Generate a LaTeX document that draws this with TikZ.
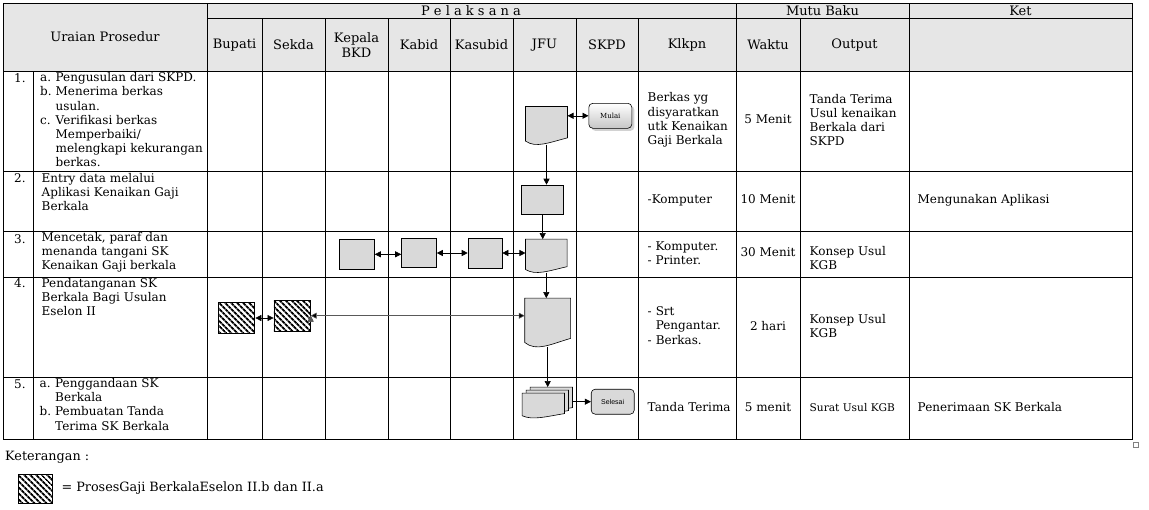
\documentclass[tikz,border=0pt]{standalone}
\usepackage{fontspec}
\setmainfont{DejaVu Serif}
\newfontfamily\labelsans{Liberation Sans}
\usetikzlibrary{arrows.meta,patterns.meta,shadows,calc,positioning}
\definecolor{headgray}{HTML}{E6E6E6}
\definecolor{boxgray}{HTML}{D9D9D9}

% outline of a document symbol drawn round an (invisible) node
\newcommand{\drawdoc}[1]{%
  \path[docshape] let \p1=(#1.north west), \p2=(#1.south east) in
    (\x1,\y1) -- (\x2,\y1) -- (\x2,{\y2+0.175*(\y1-\y2)})
    .. controls ({\x1+0.55*(\x2-\x1)},{\y2+0.05*(\y1-\y2)}) and ({\x1+0.25*(\x2-\x1)},{\y2-0.1*(\y1-\y2)})
    .. (\x1,{\y2+0.09*(\y1-\y2)}) -- cycle;}

\begin{document}
\begin{tikzpicture}[x=1pt,y=-1pt,>={Triangle[length=6pt,width=6pt]},
    font=\fontsize{12}{14.2}\selectfont]
    \tikzstyle{grid}=[line width=0.8pt]
    \tikzstyle{cell}=[inner sep=0pt,align=left,anchor=west]
    \tikzstyle{ctr}=[inner sep=0pt,align=center]
    \tikzstyle{head}=[ctr,font=\fontsize{13}{15}\selectfont]
    \tikzstyle{proc}=[draw,fill=boxgray,line width=0.6pt,inner sep=0pt]
    \tikzstyle{hatch}=[draw,line width=0.6pt,inner sep=0pt,
        pattern={Lines[angle=-45,distance=4pt,line width=2pt]}]
    \tikzstyle{docnode}=[inner sep=0pt]
    \tikzstyle{docshape}=[draw,fill=boxgray,line width=0.6pt]
    \tikzstyle{terminal}=[draw,rounded corners=4pt,inner sep=0pt,
        minimum width=43pt,minimum height=25pt,line width=0.6pt]
    \tikzstyle{link}=[->,line width=0.6pt]
    \tikzstyle{dlink}=[<->,line width=0.6pt]
    \tikzstyle{list}=[cell]

    \fill[white] (0,0) rectangle (1149,509);
    \useasboundingbox (0,0) rectangle (1149,509);

    % table
    \fill[headgray] (3,3) rectangle (1132,71);
    \draw[grid] (3,3) rectangle (1132,439);
    \foreach \y in {71,171,231,277,377}
        \draw[grid] (3,\y) -- (1132,\y);
    \draw[grid] (207,18.5) -- (1132,18.5);
    \foreach \x in {207,736,909}
        \draw[grid] (\x,3) -- (\x,439);
    \foreach \x in {262,325,388,450,513,576,638,800}
        \draw[grid] (\x,18.5) -- (\x,439);
    \draw[grid] (33,71) -- (33,439);
    \draw[gray,line width=0.5pt] (1133,442) rectangle (1138,447);

    % header
    \node[head] (pel) at (471,11) {P e l a k s a n a};
    \node[head] (mutu) at (822.5,11) {Mutu Baku};
    \node[head] (ket) at (1020.5,11) {Ket};
    \node[head] (uraian) at (105,37) {Uraian Prosedur};
    \node[head] (h-bup) at (234.5,45) {Bupati};
    \node[head] (h-sek) at (293.5,45) {Sekda};
    \node[head] (h-kep) at (356.5,45) {Kepala\\BKD};
    \node[head] (h-kab) at (419,45) {Kabid};
    \node[head] (h-kas) at (481.5,45) {Kasubid};
    \node[head] (h-jfu) at (544.5,45) {JFU};
    \node[head] (h-skpd) at (607,45) {SKPD};
    \node[head] (h-klk) at (687,45) {Klkpn};
    \node[head] (h-wkt) at (768,45) {Waktu};
    \node[head] (h-out) at (854.5,45) {Output};

    % uraian prosedur
    \node[cell] (no-1) at (14,78) {1.};
    \node[cell] (no-2) at (14,178) {2.};
    \node[cell] (no-3) at (14,239) {3.};
    \node[cell] (no-4) at (14,283) {4.};
    \node[cell] (no-5) at (14,384) {5.};
    \node[list] (u-1) at (40,121.5) {\begin{tabular}{@{}l@{\hspace{4pt}}l@{}}
        a. & Pengusulan dari SKPD.\\ b. & Menerima berkas\\ & usulan.\\
        c. & Verifikasi berkas\\ & Memperbaiki/\\ & melengkapi kekurangan\\ & berkas.\end{tabular}};
    \node[cell] (u-2) at (41.5,192) {Entry data melalui\\Aplikasi Kenaikan Gaji\\Berkala};
    \node[cell] (u-3) at (41.5,252.5) {Mencetak, paraf dan\\menanda tangani SK\\Kenaikan Gaji berkala};
    \node[cell] (u-4) at (41.5,297) {Pendatanganan SK\\Berkala Bagi Usulan\\Eselon II};
    \node[list] (u-5) at (39.5,406) {\begin{tabular}{@{}l@{\hspace{4pt}}l@{}}
        a. & Penggandaan SK\\ & Berkala\\ b. & Pembuatan Tanda\\ & Terima SK Berkala\end{tabular}};

    % kelengkapan, waktu, output, ket
    \node[cell] (k-1) at (647.5,120) {Berkas yg\\disyaratkan\\utk Kenaikan\\Gaji Berkala};
    \node[cell] (k-2) at (647.5,200) {-Komputer};
    \node[cell] (k-3) at (647.5,253) {- Komputer.\\- Printer.};
    \node[list] (k-4) at (647.5,327) {\begin{tabular}{@{}l@{\hspace{4pt}}l@{}}
        - & Srt\\ & Pengantar.\\ - & Berkas.\end{tabular}};
    \node[cell] (k-5) at (647.5,407.5) {Tanda Terima};
    \node[ctr] (w-1) at (768,119.5) {5 Menit};
    \node[ctr] (w-2) at (768,199.5) {10 Menit};
    \node[ctr] (w-3) at (768,252.5) {30 Menit};
    \node[ctr] (w-4) at (768,326) {2 hari};
    \node[ctr] (w-5) at (768,407.5) {5 menit};
    \node[cell] (o-1) at (809.5,120) {Tanda Terima\\Usul kenaikan\\Berkala dari\\SKPD};
    \node[cell] (o-3) at (809.5,258) {Konsep Usul\\KGB};
    \node[cell] (o-4) at (809.5,326) {Konsep Usul\\KGB};
    \node[cell,font=\fontsize{10.6}{12}\selectfont] (o-5) at (809.5,407.5) {Surat Usul KGB};
    \node[cell] (c-2) at (917.5,200) {Mengunakan Aplikasi};
    \node[cell] (c-5) at (917.5,407.5) {Penerimaan SK Berkala};

    % flow symbols
    \node[docnode,minimum width=41.6pt,minimum height=37.6pt] (d-1) at (546.5,125.5) {};
    \drawdoc{d-1}
    \node[terminal,top color=white,bottom color=gray!45,drop shadow={opacity=0.35},
        font=\fontsize{7}{8}\selectfont] (mulai) at (610.3,115.8) {Mulai};
    \node[proc,minimum width=42pt,minimum height=29pt] (r-2) at (542.7,199.5) {};
    \node[proc,minimum width=35pt,minimum height=30pt] (r-3a) at (357,254.3) {};
    \node[proc,minimum width=35pt,minimum height=29.5pt] (r-3b) at (419,253) {};
    \node[proc,minimum width=34pt,minimum height=30pt] (r-3c) at (485,253) {};
    \node[docnode,minimum width=41.3pt,minimum height=33pt] (d-3) at (546.3,255.8) {};
    \drawdoc{d-3}
    \node[hatch,minimum width=35.7pt,minimum height=30.6pt] (b-4) at (236.5,318) {};
    \node[hatch,minimum width=36.5pt,minimum height=31.3pt] (s-4) at (292.1,315.7) {};
    \node[docnode,minimum width=45.5pt,minimum height=48.4pt] (d-4) at (547.7,322.5) {};
    \drawdoc{d-4}
    \node[docnode,minimum width=42pt,minimum height=24.5pt] (d-5c) at (551.3,399.5) {};
    \node[docnode,minimum width=42pt,minimum height=24.5pt] (d-5b) at (547.3,402.5) {};
    \node[docnode,minimum width=42pt,minimum height=24.5pt] (d-5) at (543.3,405.5) {};
    \drawdoc{d-5c}
    \drawdoc{d-5b}
    \drawdoc{d-5}
    \node[terminal,fill=boxgray,font=\labelsans\fontsize{7}{8}\selectfont] (selesai) at (612.7,401.7) {Selesai};

    \path[link] (d-1.south) edge (d-1.south |- r-2.north);
    \path[link] (r-2.south) edge (r-2.south |- d-3.north);
    \path[link] (d-3.south) edge (d-3.south |- d-4.north);
    \path[link] (d-4.south) edge (d-4.south |- d-5c.north);
    \path[link] (d-5c.east |- selesai.west) edge (selesai.west);
    \path[dlink] (d-1.east |- mulai.west) edge (mulai.west);
    \path[dlink] (r-3a.east) edge (r-3a.east -| r-3b.west);
    \path[dlink] (r-3b.east) edge (r-3b.east -| r-3c.west);
    \path[dlink] (r-3c.east) edge (r-3c.east -| d-3.west);
    \path[dlink] (b-4.east) edge (b-4.east -| s-4.west);
    \path[dlink,draw=black!65] (s-4.east) edge (s-4.east -| d-4.west);

    % Keterangan
    \node[cell,font=\fontsize{12.8}{15}\selectfont] (keterangan) at (5,457) {Keterangan :};
    \node[hatch,minimum width=34pt,minimum height=29pt] (legend) at (35,488.5) {};
    \node[cell,right=9pt of legend,font=\fontsize{12.8}{15}\selectfont] (legend-text)
        {= ProsesGaji BerkalaEselon II.b dan II.a};
\end{tikzpicture}
\end{document}
